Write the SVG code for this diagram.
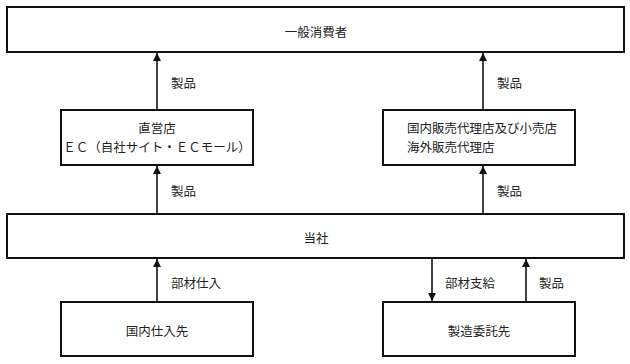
<svg xmlns="http://www.w3.org/2000/svg" width="630" height="364" viewBox="0 0 630 364">
<style>
.box{fill:#fff;stroke:#111;stroke-width:2}
.t{font-family:"Noto Sans CJK JP","Noto Sans CJK SC",sans-serif;font-size:12.5px;fill:#222;dominant-baseline:central}
.c{text-anchor:middle}
.ln{stroke:#111;stroke-width:1.6;fill:none}
</style>
<defs>
<marker id="ah" viewBox="0 0 8 8" refX="8" refY="4" markerWidth="8" markerHeight="8" markerUnits="userSpaceOnUse" orient="auto">
<path d="M0,0 L8,4 L0,8 Z" fill="#111"/>
</marker>
</defs>
<rect width="630" height="364" fill="#fff"/>
<g id="connectors">
<line class="ln" x1="157" y1="110" x2="157" y2="53" marker-end="url(#ah)"/>
<line class="ln" x1="483" y1="110" x2="483" y2="53" marker-end="url(#ah)"/>
<line class="ln" x1="157" y1="214" x2="157" y2="166" marker-end="url(#ah)"/>
<line class="ln" x1="483" y1="214" x2="483" y2="166" marker-end="url(#ah)"/>
<line class="ln" x1="157" y1="302" x2="157" y2="259" marker-end="url(#ah)"/>
<line class="ln" x1="432" y1="258" x2="432" y2="301" marker-end="url(#ah)"/>
<line class="ln" x1="526" y1="302" x2="526" y2="259" marker-end="url(#ah)"/>
<text class="t" x="171" y="82">製品</text>
<text class="t" x="497" y="82">製品</text>
<text class="t" x="171" y="190">製品</text>
<text class="t" x="497" y="190">製品</text>
<text class="t" x="171" y="282">部材仕入</text>
<text class="t" x="445" y="282">部材支給</text>
<text class="t" x="539" y="282">製品</text>
</g>
<g id="consumer">
<rect class="box" x="7" y="7" width="617" height="45"/>
<text class="t c" x="316" y="31">一般消費者</text>
</g>
<g id="direct">
<rect class="box" x="61" y="110" width="192" height="55"/>
<text class="t c" x="157" y="127">直営店</text>
<text class="t c" x="157" y="146">ＥＣ（自社サイト・ＥＣモール）</text>
</g>
<g id="agency">
<rect class="box" x="383" y="110" width="192" height="55"/>
<text class="t" x="407" y="127">国内販売代理店及び小売店</text>
<text class="t" x="407" y="146">海外販売代理店</text>
</g>
<g id="company">
<rect class="box" x="7" y="214" width="617" height="44"/>
<text class="t c" x="316" y="237">当社</text>
</g>
<g id="supplier">
<rect class="box" x="61" y="302" width="192" height="54"/>
<text class="t c" x="157" y="330">国内仕入先</text>
</g>
<g id="manufacturer">
<rect class="box" x="383" y="302" width="192" height="54"/>
<text class="t c" x="479" y="330">製造委託先</text>
</g>
</svg>
